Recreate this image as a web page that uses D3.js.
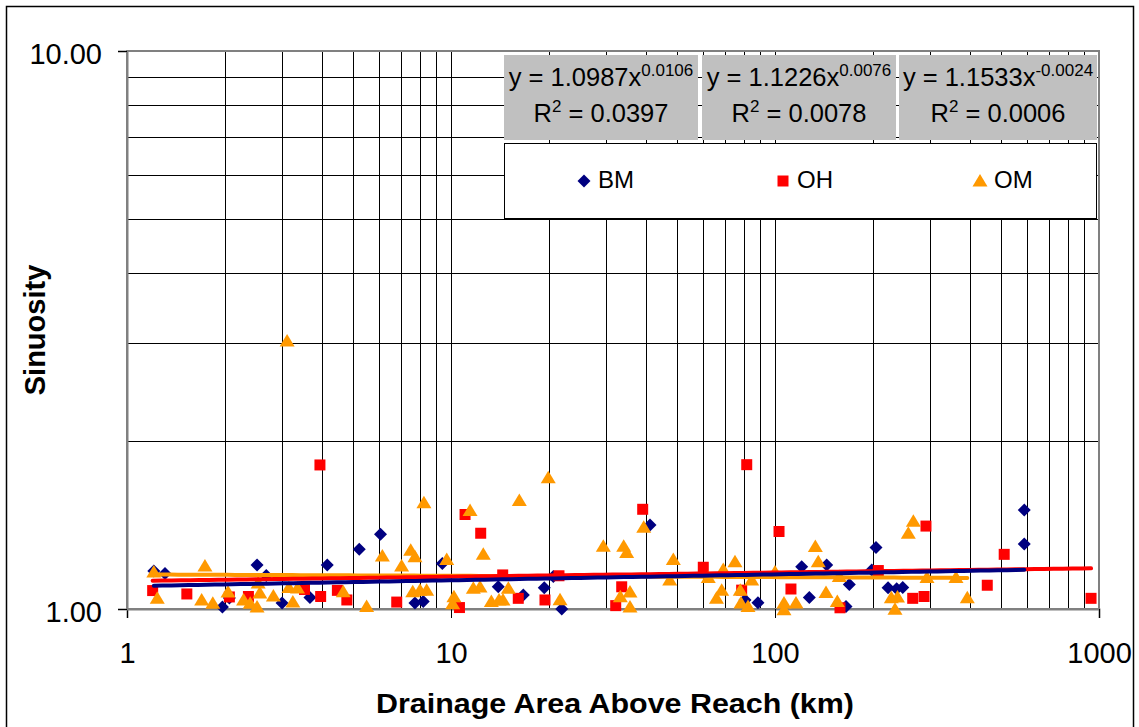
<!DOCTYPE html>
<html>
<head>
<meta charset="utf-8">
<script src="https://cdn.jsdelivr.net/npm/d3@7"></script>
<style>
  html, body { margin: 0; padding: 0; background: #fff; }
  svg { display: block; font-family: "Liberation Sans", Arial, sans-serif; }
</style>
</head>
<body>
<svg id="chart" width="1139" height="727"></svg>
<script>
// ---- Data: drainage area (km) and sinuosity per reach, grouped by stream type ----
const bmArea = [1.21, 1.31, 1.97, 2.07, 2.52, 2.69, 3.01, 3.67, 4.15, 5.21, 6.06, 7.74, 8.21, 9.40,
  13.99, 16.72, 19.40, 20.69, 21.97, 41.14, 80.8, 88.6, 120.9, 127.6, 144.4, 169.6, 165.6, 198.9,
  205, 223.3, 237.5, 247.9, 588, 588];
const bmSinuosity = [1.170, 1.158, 1.008, 1.046, 1.199, 1.148, 1.025, 1.049, 1.199, 1.279, 1.361, 1.025, 1.031, 1.207,
  1.096, 1.059, 1.092, 1.144, 1.000, 1.414, 1.038, 1.026, 1.191, 1.049, 1.199, 1.106, 1.010, 1.175,
  1.289, 1.092, 1.087, 1.093, 1.504, 1.307];

const ohArea = [1.20, 1.53, 2.07, 2.37, 3.53, 3.94, 3.96, 4.46, 4.77, 6.80, 10.62, 11.05, 12.35, 14.44,
  16.13, 19.50, 21.54, 32.24, 33.64, 39.05, 60.07, 78.9, 81.8, 102.9, 112.0, 158.7, 208.4, 266.1,
  288.4, 292.4, 452, 509.8, 945];
const ohSinuosity = [1.079, 1.064, 1.051, 1.053, 1.084, 1.812, 1.053, 1.080, 1.038, 1.029, 1.006, 1.477, 1.367, 1.151,
  1.045, 1.038, 1.147, 1.014, 1.096, 1.509, 1.188, 1.081, 1.814, 1.377, 1.086, 1.005, 1.172, 1.045,
  1.053, 1.408, 1.103, 1.253, 1.045];

const omArea = [1.21, 1.24, 1.74, 1.70, 1.84, 2.05, 2.29, 2.40, 2.52, 2.57, 2.54, 2.83, 3.16, 3.36, 3.25, 3.12,
  4.65, 5.49, 6.14, 7.04, 7.51, 7.74, 8.25, 7.62, 8.02, 8.41, 9.70, 10.21, 10.12, 11.45, 12.58, 11.72,
  12.29, 13.32, 14.07, 14.47, 15.03, 16.25, 19.96, 21.70, 29.52, 34.12, 34.85, 33.31, 35.68, 35.68,
  39.34, 48.55, 47.32, 62.24, 65.97, 69.24, 75.25, 68.47, 78.13, 78.53, 82.54, 84.73, 100, 106.6,
  106.6, 116.1, 133.2, 136.0, 143.7, 155.7, 157.9, 228.6, 238.8, 234.6, 267.3, 257.9, 294.5, 361.9, 392.2];
const omSinuosity = [1.165, 1.045, 1.194, 1.038, 1.024, 1.073, 1.038, 1.024, 1.008, 1.068, 1.113, 1.055, 1.093, 1.091, 1.029, 3.021,
  1.074, 1.010, 1.245, 1.194, 1.274, 1.241, 1.551, 1.074, 1.081, 1.081, 1.226, 1.052, 1.022, 1.501, 1.254, 1.089,
  1.095, 1.031, 1.038, 1.038, 1.089, 1.564, 1.719, 1.039, 1.295, 1.295, 1.262, 1.052, 1.073, 1.008,
  1.401, 1.226, 1.127, 1.139, 1.045, 1.177, 1.215, 1.080, 1.081, 1.025, 1.010, 1.127, 1.165, 1.025,
  0.997, 1.025, 1.294, 1.215, 1.071, 1.031, 1.144, 1.048, 1.051, 0.999, 1.436, 1.367, 1.139, 1.139, 1.048];

// ---- Power-law trendlines y = a * x^b, with the fit statistics shown in the labels ----
const seriesNames = ["BM", "OH", "OM"];
const trendCoef = [1.0987, 1.1226, 1.1533];
const trendExp = [0.0106, 0.0076, -0.0024];
const trendCoefLabels = ["1.0987", "1.1226", "1.1533"];
const trendExpLabels = ["0.0106", "0.0076", "-0.0024"];
const r2Labels = ["0.0397", "0.0078", "0.0006"];

// ---- Axis tick labels ----
const xTickValues = [1, 10, 100, 1000];
const xTickLabels = ["1", "10", "100", "1000"];
const yTickValues = [1, 10];
const yTickLabels = ["1.00", "10.00"];

const colors = ["#000080", "#FF0000", "#FF9900"];

const svg = d3.select("#chart");
const plot = { left: 127, right: 1099, top: 51, bottom: 609 };

const x = d3.scaleLog().domain([1, 1000]).range([plot.left, plot.right]);
const y = d3.scaleLog().domain([1, 10]).range([plot.bottom, plot.top]);

// outer chart frame
svg.append("rect")
  .attr("x", 6.5).attr("y", 6.5).attr("width", 1127).attr("height", 740)
  .attr("fill", "#fff").attr("stroke", "#000").attr("stroke-width", 1.5);

// gridlines at every log subdivision
const grid = svg.append("g").attr("shape-rendering", "crispEdges");
grid.selectAll("line.vx").data(x.ticks()).join("line")
  .attr("x1", d => Math.round(x(d)) + 0.5).attr("x2", d => Math.round(x(d)) + 0.5)
  .attr("y1", plot.top).attr("y2", plot.bottom)
  .attr("stroke", "#000").attr("stroke-width", 1);
grid.selectAll("line.hy").data(y.ticks()).join("line")
  .attr("y1", d => Math.round(y(d)) + 0.5).attr("y2", d => Math.round(y(d)) + 0.5)
  .attr("x1", plot.left).attr("x2", plot.right)
  .attr("stroke", "#000").attr("stroke-width", 1);

// plot area border (gray)
svg.append("rect")
  .attr("x", plot.left).attr("y", plot.top)
  .attr("width", plot.right - plot.left).attr("height", plot.bottom - plot.top)
  .attr("fill", "none").attr("stroke", "#808080").attr("stroke-width", 2);

// axes
const xAxis = d3.axisBottom(x).tickValues(xTickValues).tickFormat((d, i) => xTickLabels[i])
  .tickSize(9).tickPadding(24);
const gx = svg.append("g").attr("transform", `translate(0,${plot.bottom})`).call(xAxis);
gx.select(".domain").attr("stroke", "#808080").attr("stroke-width", 2);
gx.selectAll(".tick line").attr("stroke", "#000").attr("stroke-width", 1);
gx.selectAll(".tick text").attr("font-size", 29).attr("fill", "#000")
  .attr("font-family", "'Liberation Sans', Arial, sans-serif");

const yAxis = d3.axisLeft(y).tickValues(yTickValues).tickFormat((d, i) => yTickLabels[i])
  .tickSize(9).tickPadding(16);
const gy = svg.append("g").attr("transform", `translate(${plot.left},0)`).call(yAxis);
gy.select(".domain").attr("stroke", "#808080").attr("stroke-width", 2);
gy.selectAll(".tick line").attr("stroke", "#000").attr("stroke-width", 1);
gy.selectAll(".tick text").attr("font-size", 29).attr("fill", "#000").attr("dy", "0.43em")
  .attr("font-family", "'Liberation Sans', Arial, sans-serif");

// axis titles
svg.append("text")
  .attr("x", 615).attr("y", 713)
  .attr("text-anchor", "middle").attr("font-size", 27).attr("font-weight", "bold")
  .attr("textLength", 478).attr("lengthAdjust", "spacingAndGlyphs")
  .text("Drainage Area Above Reach (km)");
svg.append("text")
  .attr("transform", `translate(45,${(plot.top + plot.bottom) / 2}) rotate(-90)`)
  .attr("text-anchor", "middle").attr("font-size", 29).attr("font-weight", "bold")
  .text("Sinuosity");

// marker shapes
const markerPath = [
  "M0,-6.5L6.5,0L0,6.5L-6.5,0Z",          // diamond
  "M-5.5,-5.5H5.5V5.5H-5.5Z",             // square
  "M0,-7L7.5,5.5L-7.5,5.5Z"               // triangle
];

const seriesData = [
  bmArea.map((a, i) => ({ a, s: bmSinuosity[i] })),
  ohArea.map((a, i) => ({ a, s: ohSinuosity[i] })),
  omArea.map((a, i) => ({ a, s: omSinuosity[i] }))
];

// scatter points
seriesData.forEach((pts, k) => {
  svg.append("g").selectAll("path").data(pts).join("path")
    .attr("d", markerPath[k])
    .attr("transform", d => `translate(${x(d.a)},${y(d.s)})`)
    .attr("fill", colors[k]);
});

// trendlines over each series' own area range
const line = d3.line().x(d => x(d[0])).y(d => y(d[1]));
[2, 1, 0].forEach(k => {
  const [lo, hi] = d3.extent(seriesData[k], d => d.a);
  const pts = d3.range(0, 101).map(i => {
    const a = Math.pow(10, Math.log10(lo) + (Math.log10(hi) - Math.log10(lo)) * i / 100);
    return [a, trendCoef[k] * Math.pow(a, trendExp[k])];
  });
  svg.append("path").attr("d", line(pts))
    .attr("fill", "none").attr("stroke", colors[k]).attr("stroke-width", 4)
    .attr("stroke-linecap", "round");
});

// equation labels
const boxes = [[504, 698], [702, 896], [899, 1097]];
boxes.forEach((b, k) => {
  const cx = (b[0] + b[1]) / 2;
  svg.append("rect").attr("x", b[0]).attr("y", 55).attr("width", b[1] - b[0]).attr("height", 85)
    .attr("fill", "#C0C0C0");
  const t1 = svg.append("text").attr("x", cx).attr("y", 86).attr("text-anchor", "middle")
    .attr("font-size", 25.5);
  t1.append("tspan").text(`y = ${trendCoefLabels[k]}x`);
  t1.append("tspan").attr("font-size", 17).attr("dy", -10).text(trendExpLabels[k]);
  const t2 = svg.append("text").attr("x", cx).attr("y", 122).attr("text-anchor", "middle")
    .attr("font-size", 25.5);
  t2.append("tspan").text("R");
  t2.append("tspan").attr("font-size", 17).attr("dy", -10).text("2");
  t2.append("tspan").attr("dy", 10).text(` = ${r2Labels[k]}`);
});

// legend
svg.append("rect").attr("x", 504.5).attr("y", 143.5).attr("width", 592).attr("height", 75)
  .attr("fill", "#fff").attr("stroke", "#000").attr("stroke-width", 1);
const legendX = [584, 783, 980];
seriesNames.forEach((name, k) => {
  svg.append("path").attr("d", markerPath[k])
    .attr("transform", `translate(${legendX[k]},181)`).attr("fill", colors[k]);
  svg.append("text").attr("x", legendX[k] + 14).attr("y", 188)
    .attr("font-size", 24).text(name);
});
</script>
</body>
</html>
